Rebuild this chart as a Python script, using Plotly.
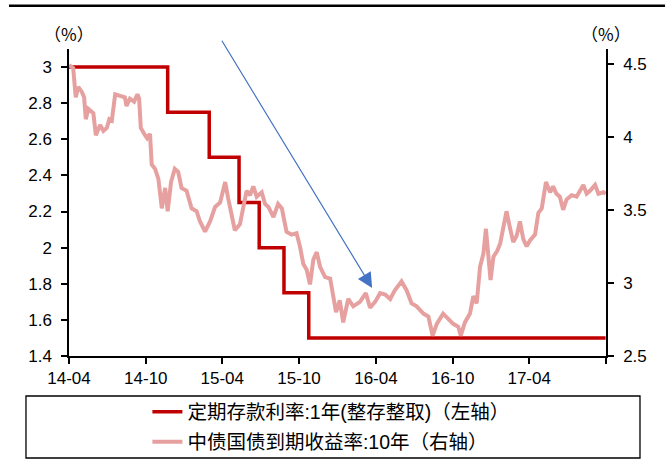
import plotly.graph_objects as go

# ---- data ----
deposit_dates = ["2014-04-01", "2014-11-22", "2015-03-01", "2015-05-11",
                 "2015-06-28", "2015-08-26", "2015-10-24", "2017-09-30"]
deposit_rate = [3.0, 2.75, 2.5, 2.25, 2.0, 1.75, 1.5, 1.5]

bond_dates = [
    "2014-04-01", "2014-04-11", "2014-04-17", "2014-04-23", "2014-05-01", "2014-05-07",
    "2014-05-11", "2014-05-17", "2014-05-25", "2014-05-29", "2014-06-04", "2014-06-14",
    "2014-06-22", "2014-06-30", "2014-07-06", "2014-07-12", "2014-07-20", "2014-07-31",
    "2014-08-12", "2014-08-16", "2014-08-24", "2014-09-03", "2014-09-11", "2014-09-15",
    "2014-09-19", "2014-09-29", "2014-10-04", "2014-10-11", "2014-10-15", "2014-10-23",
    "2014-10-31", "2014-11-08", "2014-11-16", "2014-11-22", "2014-11-30", "2014-12-09",
    "2014-12-17", "2014-12-25",
    "2015-01-06", "2015-01-18", "2015-01-30", "2015-02-07", "2015-02-19", "2015-03-03",
    "2015-03-15", "2015-03-27", "2015-04-08", "2015-04-15", "2015-04-23", "2015-05-01",
    "2015-05-13", "2015-05-21", "2015-05-29", "2015-06-06", "2015-06-14", "2015-06-22",
    "2015-07-04", "2015-07-12", "2015-07-20", "2015-08-01", "2015-08-12", "2015-08-21",
    "2015-09-01", "2015-09-13", "2015-09-25", "2015-10-03", "2015-10-11", "2015-10-19",
    "2015-10-27", "2015-11-04", "2015-11-12", "2015-11-20", "2015-12-02", "2015-12-14",
    "2015-12-21", "2015-12-28",
    "2016-01-06", "2016-01-14", "2016-01-26", "2016-02-07", "2016-02-23", "2016-03-08",
    "2016-03-18", "2016-03-30", "2016-04-11", "2016-04-23", "2016-05-05", "2016-05-16",
    "2016-06-01", "2016-06-13", "2016-06-25", "2016-07-07", "2016-07-23", "2016-08-04",
    "2016-08-14", "2016-08-24", "2016-09-08", "2016-09-20", "2016-10-02", "2016-10-14",
    "2016-10-20", "2016-10-30", "2016-11-11", "2016-11-19", "2016-11-27", "2016-12-05",
    "2016-12-13", "2016-12-19", "2016-12-25", "2016-12-30",
    "2017-01-06", "2017-01-15", "2017-01-22", "2017-01-29", "2017-02-06", "2017-02-14",
    "2017-02-22", "2017-03-02", "2017-03-10", "2017-03-18", "2017-03-26", "2017-04-03",
    "2017-04-15", "2017-04-23", "2017-05-01", "2017-05-11", "2017-05-21", "2017-05-28",
    "2017-06-05", "2017-06-13", "2017-06-21", "2017-06-29", "2017-07-11", "2017-07-23",
    "2017-08-08", "2017-08-16", "2017-08-24", "2017-09-05", "2017-09-13", "2017-09-25",
    "2017-09-30",
]
bond_yield = [
    4.49, 4.47, 4.27, 4.34, 4.31, 4.27, 4.12, 4.19, 4.17, 4.16,
    4.01, 4.08, 4.04, 4.06, 4.12, 4.11, 4.29, 4.28, 4.27, 4.21,
    4.26, 4.24, 4.29, 4.26, 4.06, 4.01, 3.99, 4.02, 3.81, 3.78,
    3.71, 3.51, 3.65, 3.49, 3.69, 3.78, 3.76, 3.65, 3.63, 3.51,
    3.49, 3.42, 3.35, 3.42, 3.52, 3.55, 3.69, 3.58, 3.46, 3.36,
    3.40, 3.51, 3.63, 3.60, 3.66, 3.59, 3.62, 3.54, 3.52, 3.45,
    3.54, 3.51, 3.35, 3.33, 3.34, 3.25, 3.13, 3.09, 2.99, 3.16,
    3.21, 3.11, 3.04, 3.03, 2.93, 2.80, 2.88, 2.73, 2.89, 2.84,
    2.87, 2.93, 2.83, 2.87, 2.93, 2.92, 2.89, 2.95, 3.01, 2.95,
    2.86, 2.84, 2.79, 2.77, 2.64, 2.72, 2.79, 2.75, 2.72, 2.70,
    2.64, 2.73, 2.79, 2.91, 2.86, 3.11, 3.20, 3.37, 3.18, 3.02,
    3.18, 3.22, 3.27, 3.36, 3.49, 3.38, 3.28, 3.32, 3.42, 3.30,
    3.25, 3.29, 3.33, 3.48, 3.51, 3.69, 3.62, 3.66, 3.61, 3.59,
    3.50, 3.57, 3.60, 3.59, 3.67, 3.61, 3.63, 3.67, 3.61, 3.62, 3.61,
]

x_tick_vals = ["2014-04-01", "2014-10-01", "2015-04-01", "2015-10-01",
               "2016-04-01", "2016-10-01", "2017-04-01", "2017-10-01"]
x_tick_text = ["14-04", "14-10", "15-04", "15-10", "16-04", "16-10", "17-04", ""]

name_deposit = "定期存款利率:1年(整存整取)（左轴）"
name_bond = "中债国债到期收益率:10年（右轴）"

# ---- styles ----
RED = "#C00000"
PINK = "#E6A09F"
FONT = "Liberation Sans, Arial, Noto Sans CJK SC, sans-serif"
LEG_FONT = "Liberation Sans, Noto Sans CJK SC, sans-serif"

fig = go.Figure()
fig.add_trace(go.Scatter(
    x=deposit_dates, y=deposit_rate, name=name_deposit, mode="lines",
    line=dict(color=RED, width=3.5, shape="hv"), yaxis="y", legend="legend",
))
fig.add_trace(go.Scatter(
    x=bond_dates, y=bond_yield, name=name_bond, mode="lines",
    line=dict(color=PINK, width=4), yaxis="y2", legend="legend2",
))

axis_common = dict(showgrid=False, zeroline=False, showline=True, linecolor="#000000",
                   linewidth=1.5, ticks="outside", ticklen=6, tickcolor="#000000",
                   tickwidth=1.5, tickfont=dict(family=FONT, size=17, color="#000000"))

fig.update_layout(
    width=667, height=464,
    margin=dict(l=69, r=61, t=49, b=108, autoexpand=False),
    paper_bgcolor="white", plot_bgcolor="white",
    showlegend=True,
    xaxis=dict(range=["2014-04-01", "2017-10-01"], type="date",
               tickvals=x_tick_vals, ticktext=x_tick_text, **axis_common),
    yaxis=dict(range=[1.4, 3.1], tick0=1.4, dtick=0.2, side="left",
               ticklabelstandoff=6, **axis_common),
    yaxis2=dict(range=[2.5, 4.6], tick0=2.5, dtick=0.5, side="right",
                overlaying="y", ticklabelstandoff=6, **axis_common),
    legend=dict(x=0.146, y=-0.1824, xanchor="left", yanchor="middle",
                bgcolor="rgba(0,0,0,0)", borderwidth=0,
                font=dict(family=LEG_FONT, size=19.5, color="#000000")),
    legend2=dict(x=0.146, y=-0.280, xanchor="left", yanchor="middle",
                 bgcolor="rgba(0,0,0,0)", borderwidth=0,
                 font=dict(family=LEG_FONT, size=19.5, color="#000000")),
    shapes=[
        dict(type="line", xref="paper", yref="paper", x0=-0.1117, x1=1.110,
             y0=1.141, y1=1.141, line=dict(color="#000000", width=2.5)),
        dict(type="rect", xref="paper", yref="paper", x0=-0.0801, x1=1.0633,
             y0=-0.3322, y1=-0.1303, line=dict(color="#000000", width=1.3)),
    ],
    annotations=[
        dict(text="（%）", xref="paper", yref="paper", x=0.0, y=1.049,
             xanchor="center", yanchor="middle", showarrow=False,
             font=dict(family="Noto Sans CJK SC", size=17, color="#000000")),
        dict(text="（%）", xref="paper", yref="paper", x=1.0, y=1.049,
             xanchor="center", yanchor="middle", showarrow=False,
             font=dict(family="Noto Sans CJK SC", size=17, color="#000000")),
        dict(text="", xref="x", yref="y", axref="x", ayref="y",
             x="2016-03-23", y=1.777, ax="2015-03-29", ay=3.154,
             showarrow=True, arrowhead=2, arrowsize=2.5, arrowwidth=1.2,
             arrowcolor="#4472C4"),
    ],
)

fig.write_html("out.html")
